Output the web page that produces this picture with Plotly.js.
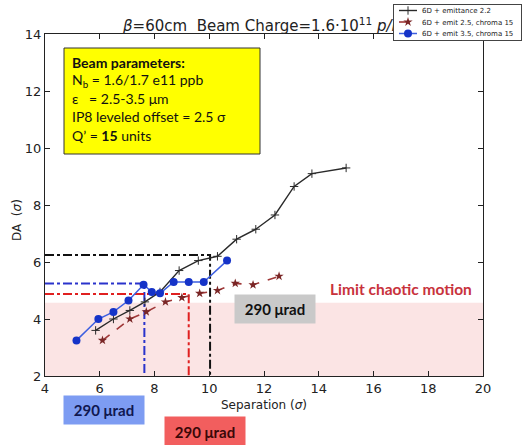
<!DOCTYPE html>
<html>
<head>
<meta charset="utf-8">
<script src="https://cdn.plot.ly/plotly-3.0.1.min.js"></script>
<style>html,body{margin:0;padding:0;background:#fff;}#chart{width:528px;height:445px;}</style>
</head>
<body>
<div id="chart"></div>
<script>
// ---- data ----
const emit22X = [5.85, 6.5, 7.1, 7.65, 8.2, 8.9, 9.6, 10.3, 11.0, 11.7, 12.4, 13.1, 13.75, 15.0];
const emit22Y = [3.6, 4.0, 4.3, 4.6, 4.95, 5.7, 6.05, 6.2, 6.8, 7.15, 7.65, 8.65, 9.1, 9.3];

const emit25X = [6.1, 7.1, 7.7, 8.4, 9.0, 9.65, 10.3, 10.95, 11.6, 12.55];
const emit25Y = [3.25, 4.0, 4.25, 4.6, 4.75, 4.9, 5.0, 5.25, 5.2, 5.5];

const emit35X = [5.15, 5.95, 6.5, 7.05, 7.6, 7.9, 8.2, 8.7, 9.25, 9.8, 10.65];
const emit35Y = [3.25, 4.0, 4.25, 4.65, 5.2, 4.95, 4.9, 5.3, 5.3, 5.3, 6.05];

const seriesNames = ["6D + emittance 2.2", "6D + emit 2.5, chroma 15", "6D + emit 3.5, chroma 15"];

// crossing-angle reference points (separation, DA)
const refBlack = [10.03, 6.25];
const refBlue = [7.63, 5.25];
const refRed = [9.25, 4.88];

const chaoticLimit = 4.57;
const xRange = [4, 20];
const yRange = [2, 14];
const xTicks = [4, 6, 8, 10, 12, 14, 16, 18, 20];
const yTicks = [2, 4, 6, 8, 10, 12, 14];

const angleLabel = "290 μrad";
const limitLabel = "Limit chaotic motion";
const paramLines = [
  "<b>Beam parameters:</b>",
  "N<sub>b</sub> = 1.6/1.7 e11 ppb",
  "ε   = 2.5-3.5 μm",
  "IP8 leveled offset = 2.5 σ",
  "Q’ = <b>15</b> units"
];

function refTrace(p, color) {
  return {
    x: [xRange[0], p[0], p[0]], y: [p[1], p[1], yRange[0]],
    mode: 'lines', showlegend: false, hoverinfo: 'skip',
    line: {color: color, width: 2, dash: 'dashdot'}
  };
}

const traces = [
  refTrace(refBlack, '#111111'),
  refTrace(refBlue, '#2a33cc'),
  refTrace(refRed, '#e02020'),
  {
    x: emit22X, y: emit22Y, name: seriesNames[0], mode: 'lines+markers',
    line: {color: '#2a2a2a', width: 1.4},
    marker: {symbol: 'cross-thin', size: 6, color: '#2a2a2a', line: {color: '#2a2a2a', width: 1}}
  },
  {
    x: emit25X, y: emit25Y, name: seriesNames[1], mode: 'lines+markers',
    line: {color: '#a03838', width: 1.6, dash: 'dash'},
    marker: {symbol: 'star', size: 7, color: '#7a2626'}
  },
  {
    x: emit35X, y: emit35Y, name: seriesNames[2], mode: 'lines+markers',
    line: {color: '#3d5fe0', width: 1.5},
    marker: {symbol: 'circle', size: 8, color: '#1533c8'}
  }
];

const boxFont = {family: 'Lato, "Open Sans", sans-serif', size: 15, color: '#111'};

const annotations = [
  {
    xref: 'x', yref: 'y', x: 12.41, y: 4.35, text: '<b>' + angleLabel + '</b>', showarrow: false,
    bgcolor: '#c9c9c9', width: 78, height: 26, font: boxFont
  },
  {
    xref: 'x', yref: 'paper', x: 6.16, y: -0.1, yanchor: 'middle', text: '<b>' + angleLabel + '</b>', showarrow: false,
    bgcolor: '#7d9cf2', width: 78, height: 26, font: Object.assign({}, boxFont, {color: '#101850'})
  },
  {
    xref: 'x', yref: 'paper', x: 9.84, y: -0.165, yanchor: 'middle', text: '<b>' + angleLabel + '</b>', showarrow: false,
    bgcolor: '#f25e5e', width: 78, height: 28, font: Object.assign({}, boxFont, {color: '#3a0808'})
  },
  {
    xref: 'x', yref: 'y', x: 17.0, y: 5.05, text: '<b>' + limitLabel + '</b>', showarrow: false,
    font: {family: 'Lato, "Open Sans", sans-serif', size: 15.5, color: '#c8323c'}
  },
  {
    xref: 'paper', yref: 'paper', x: (17 - 45) / 438, y: (376 - 220) / 342, textangle: -90,
    xanchor: 'center', yanchor: 'middle', showarrow: false, text: 'DA  (<i>σ</i>)',
    font: {family: '"DejaVu Sans", sans-serif', size: 12, color: '#222'}
  }
];

// yellow parameter box text lines
const lineTop = 62, lineStep = 18.3;
paramLines.forEach(function (t, i) {
  annotations.push({
    xref: 'paper', yref: 'paper', x: (70 - 45) / 438, y: (376 - (lineTop + i * lineStep)) / 342,
    xanchor: 'left', yanchor: 'middle', text: t, showarrow: false,
    font: {family: 'Lato, "Open Sans", sans-serif', size: 14, color: '#111'}
  });
});

const layout = {
  width: 528, height: 445,
  margin: {l: 45, r: 45, t: 34, b: 69, autoexpand: false},
  paper_bgcolor: '#ffffff', plot_bgcolor: '#ffffff',
  font: {family: '"DejaVu Sans", sans-serif', color: '#222'},
  title: {
    text: '<i>β</i>=60cm  Beam Charge=1.6·10<sup>11</sup> <i>p/bunch</i>',
    font: {family: '"DejaVu Sans", sans-serif', size: 15, color: '#222'},
    x: (123 - 45) / 438, xref: 'paper', xanchor: 'left',
    y: 1 - 26 / 445, yref: 'container', yanchor: 'middle'
  },
  xaxis: {
    range: xRange, tickvals: xTicks, ticks: 'inside', ticklen: 5, tickcolor: '#222',
    mirror: 'ticks', showline: true, linecolor: '#222', linewidth: 1.2,
    showgrid: false, zeroline: false, tickfont: {size: 13, color: '#222'},
    title: {text: 'Separation (<i>σ</i>)', font: {size: 12, color: '#222'}, standoff: 5}
  },
  yaxis: {
    range: yRange, tickvals: yTicks, ticks: 'inside', ticklen: 5, tickcolor: '#222',
    mirror: 'ticks', showline: true, linecolor: '#222', linewidth: 1.2,
    showgrid: false, zeroline: false, tickfont: {size: 13, color: '#222'}
  },
  legend: {
    x: (393 - 45) / 438, y: (376 - 4) / 342, xanchor: 'left', yanchor: 'top',
    bgcolor: '#ffffff', bordercolor: '#444', borderwidth: 1,
    font: {size: 7, color: '#222', family: '"DejaVu Sans", sans-serif'}, tracegroupgap: 0, itemwidth: 30
  },
  shapes: [
    {type: 'rect', xref: 'paper', yref: 'y', x0: 0, x1: 1, y0: yRange[0], y1: chaoticLimit,
     fillcolor: '#fbe4e4', line: {width: 0}, layer: 'below'},
    {type: 'rect', xref: 'paper', yref: 'paper',
     x0: (64 - 45) / 438, x1: (260 - 45) / 438, y0: (376 - 154) / 342, y1: (376 - 48) / 342,
     fillcolor: '#ffff00', line: {color: '#333', width: 1}, layer: 'above'}
  ],
  annotations: annotations,
  showlegend: true
};

Plotly.newPlot('chart', traces, layout, {displayModeBar: false, staticPlot: true}).then(function (gd) {
  // compact the legend rows to match the reference's tight matplotlib legend
  try {
    const leg = gd.querySelector('.legend');
    const rows = leg.querySelectorAll('.traces');
    const rowStep = 11.5, firstY = 6.5;
    rows.forEach(function (r, i) {
      r.setAttribute('transform', 'translate(1,' + (firstY + i * rowStep) + ')');
      const txt = r.querySelector('.legendtext');
      if (txt) txt.setAttribute('x', 28);
      r.querySelectorAll('.legendlines path').forEach(function (p) { p.setAttribute('d', 'M5,0h18'); });
      r.querySelectorAll('.legendpoints path').forEach(function (p) {
        p.setAttribute('transform', 'translate(14,0)');
      });
      const bgr = r.querySelector('rect.legendtoggle');
      if (bgr) bgr.setAttribute('height', rowStep);
    });
    const bg = leg.querySelector('rect.bg');
    if (bg) { bg.setAttribute('height', 36); bg.setAttribute('width', 128); }
    // keep the legend drawn on top of the title, as in the reference
    leg.parentNode.appendChild(leg);
  } catch (e) {}
});
</script>
</body>
</html>
